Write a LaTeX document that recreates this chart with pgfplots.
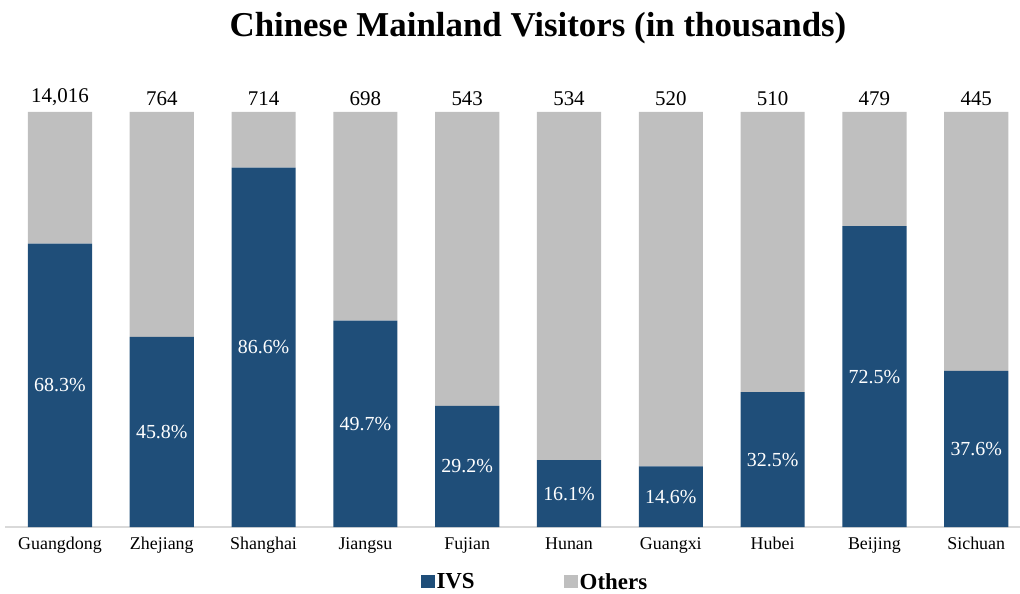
\documentclass[border=0pt]{standalone}
\usepackage{pgfplots}
\pgfplotsset{compat=1.18}
\usepackage{pgfplotstable}
\usepackage{fontspec}
\setmainfont{Liberation Serif}
\definecolor{ivs}{HTML}{1F4E79}
\definecolor{oth}{HTML}{BFBFBF}
\definecolor{axl}{HTML}{D9D9D9}
\pgfplotstableread{
x ivs oth pct total
0 68.3 31.7 68.3 14,016
1 45.8 54.2 45.8 764
2 86.6 13.4 86.6 714
3 49.7 50.3 49.7 698
4 29.2 70.8 29.2 543
5 16.1 83.9 16.1 534
6 14.6 85.4 14.6 520
7 32.5 67.5 32.5 510
8 72.5 27.5 72.5 479
9 37.6 62.4 37.6 445
}\datatable
\begin{document}
\begin{tikzpicture}
\useasboundingbox (-5bp,-67bp) rectangle (1015bp,527bp);
\node[font=\fontsize{35}{40}\selectfont\bfseries] at (533bp,499bp) {Chinese Mainland Visitors (in thousands)};
\begin{axis}[
  at={(0,0)}, anchor=south west,
  scale only axis,
  width=1015bp, height=415bp,
  xmin=-0.54, xmax=9.43,
  ymin=0, ymax=100,
  ybar stacked,
  bar width=0.63,
  axis x line*=bottom,
  axis y line=none,
  x axis line style={draw=axl, line width=1.5bp, -},
  xtick={0,...,9},
  xticklabels={Guangdong,Zhejiang,Shanghai,Jiangsu,Fujian,Hunan,Guangxi,Hubei,Beijing,Sichuan},
  xtick style={draw=none},
  xticklabel style={font=\fontsize{18}{20}\selectfont, anchor=base, yshift=-22bp, inner sep=0pt},
  legend style={at={(0.522,-0.1325)}, anchor=center, draw=none, fill=none,
    legend columns=2, font=\fontsize{23}{26}\selectfont\bfseries,
    /tikz/every even column/.append style={column sep=87bp},
    inner sep=0pt},
  legend image code/.code={\fill[#1] (0bp,-6bp) rectangle (14bp,7bp);},
  clip=false,
]
\addplot[fill=ivs, draw=none,
  point meta=explicit symbolic,
  nodes near coords={\pgfplotspointmeta\%},
  every node near coord/.style={font=\fontsize{20}{22}\selectfont, text=white, anchor=center},
] table[x=x, y=ivs, meta=pct] {\datatable};
\addlegendentry{IVS}
\addplot[fill=oth, draw=none,
  point meta=explicit symbolic,
  nodes near coords={\pgfplotspointmeta},
  visualization depends on={\thisrow{oth} \as \othh},
  every node near coord/.style={font=\fontsize{21}{24}\selectfont, text=black, anchor=south, inner sep=0pt,
     shift={(axis direction cs:0,\othh/2)}, yshift=6bp},
] table[x=x, y=oth, meta=total] {\datatable};
\addlegendentry{Others}
\end{axis}
\end{tikzpicture}
\end{document}
